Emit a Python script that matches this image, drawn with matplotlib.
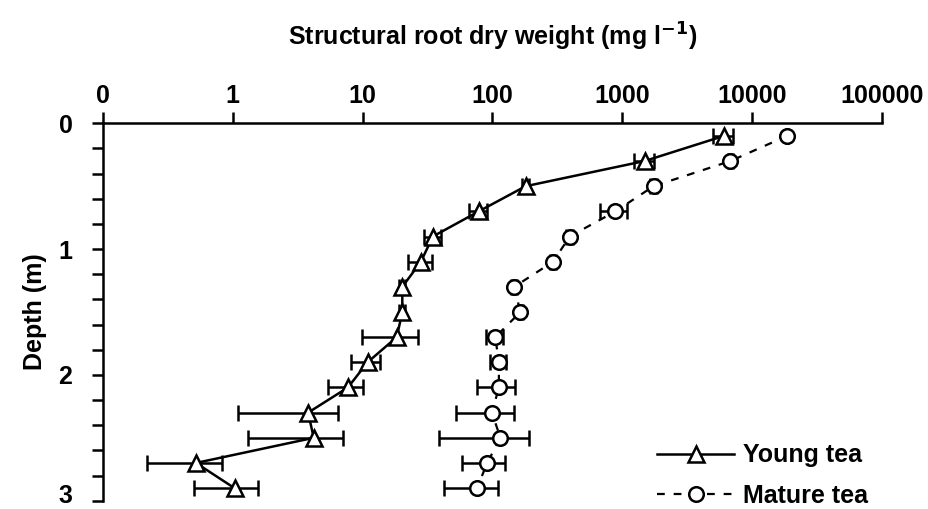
import matplotlib
matplotlib.use("Agg")
import matplotlib.pyplot as plt
import matplotlib.transforms as mtransforms
from matplotlib.lines import Line2D
from matplotlib.ticker import FixedLocator, FixedFormatter, MultipleLocator, FuncFormatter, NullLocator

plt.rcParams['font.family'] = ['Liberation Sans', 'DejaVu Sans']
plt.rcParams['font.weight'] = 'bold'
plt.rcParams['mathtext.default'] = 'bf'

depth = [0.1, 0.3, 0.5, 0.7, 0.9, 1.1, 1.3, 1.5, 1.7, 1.9, 2.1, 2.3, 2.5, 2.7, 2.9]

young = [6070, 1484, 180, 78.4, 34.7, 28.1, 20.2, 20.2, 18.3, 10.9, 7.7, 3.8, 4.2, 0.52, 1.03]
young_se = [1110, 257, 12, 12.4, 5.1, 5.9, 1.0, 1.0, 8.5, 2.7, 2.3, 2.7, 2.9, 0.30, 0.53]

mature = [18600, 6800, 1740, 884, 393, 293, 147, 164, 105, 112, 112, 99, 115, 91, 76]
mature_se = [400, 300, 100, 210, 25, 15, 8, 8, 16, 16, 36, 47, 76, 33, 34]

xticks = [0.1, 1, 10, 100, 1000, 10000, 100000]
xticklabels = ["0", "1", "10", "100", "1000", "10000", "100000"]

FS = 18

fig = plt.figure(figsize=(9.29, 5.09), dpi=100)
ax = fig.add_axes([103/929, 1 - 500.7/509, (882 - 103)/929, (500.7 - 123.3)/509])

dash = (0, (3.5, 4.0))
ax.errorbar(young, depth, xerr=young_se, color='black', lw=1.8, marker='^', ms=11,
            mfc='white', mec='black', mew=1.8, capsize=6, capthick=1.8, elinewidth=1.8,
            clip_on=False, zorder=3)
ax.errorbar(mature, depth, xerr=mature_se, color='black', lw=1.6, ls=dash, marker='o', ms=10.5,
            mfc='white', mec='black', mew=1.8, capsize=6, capthick=1.8, elinewidth=1.8,
            clip_on=False, zorder=3)

ax.set_xscale('log')
ax.set_xlim(0.1, 100000)
ax.set_ylim(3, 0)
ax.xaxis.set_major_locator(FixedLocator(xticks))
ax.xaxis.set_major_formatter(FixedFormatter(xticklabels))
ax.xaxis.set_minor_locator(NullLocator())
ax.xaxis.tick_top()
ax.xaxis.set_label_position('top')

ax.yaxis.set_major_locator(MultipleLocator(0.2))
ax.yaxis.set_major_formatter(FuncFormatter(lambda v, p: f"{int(round(v))}" if abs(v - round(v)) < 1e-6 else ""))

for s in ['right', 'bottom']:
    ax.spines[s].set_visible(False)
for s in ['top', 'left']:
    ax.spines[s].set_linewidth(1.8)

ax.tick_params(axis='x', direction='out', length=8, width=1.8, labelsize=FS, pad=3)
ax.tick_params(axis='y', direction='out', length=8, width=1.8, labelsize=FS, pad=14)
for lab in ax.get_xticklabels() + ax.get_yticklabels():
    lab.set_fontweight('bold')
for lab in ax.get_yticklabels():
    lab.set_verticalalignment('center_baseline')

ax.set_xlabel('Structural root dry weight (mg l$^{-1}$)', fontsize=FS, fontweight='bold', labelpad=28)
ax.set_ylabel('Depth (m)', fontsize=FS, fontweight='bold', labelpad=8)

handles = [
    Line2D([], [], color='black', lw=1.8, marker='^', ms=11, mfc='white', mec='black', mew=1.8),
    Line2D([], [], color='black', lw=1.6, ls=dash, marker='o', ms=10.5, mfc='white', mec='black', mew=1.8),
]
leg = ax.legend(handles, ['Young tea', 'Mature tea'], loc='lower right', frameon=False, fontsize=FS,
                handlelength=3.1, numpoints=1, bbox_to_anchor=(0.995, -0.045),
                labelspacing=0.65, handletextpad=0.35, borderaxespad=0)
for t in leg.get_texts():
    t.set_fontweight('bold')

# nudge the bottom "3" label up slightly so it stays inside the canvas
fig.canvas.draw()
shift = mtransforms.ScaledTranslation(0, 5 / 72, fig.dpi_scale_trans)
for tick in ax.yaxis.get_major_ticks():
    if abs(tick.get_loc() - 3) < 1e-6:
        tick.label1.set_transform(tick.label1.get_transform() + shift)

fig.savefig('out.png', dpi=100)
